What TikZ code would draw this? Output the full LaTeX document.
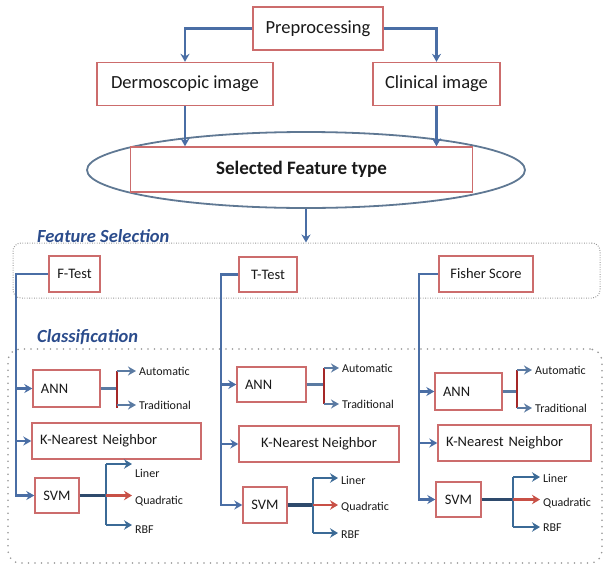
\documentclass[tikz,border=0pt]{standalone}
\usepackage{fontspec}
\setmainfont{Carlito}
\usetikzlibrary{arrows.meta,shapes.geometric}

\definecolor{boxred}{RGB}{204,108,108}
\definecolor{txtgray}{RGB}{25,25,25}
\definecolor{mainblue}{RGB}{74,110,165}
\definecolor{steelblue}{RGB}{59,106,150}
\definecolor{svmdark}{RGB}{46,74,108}
\definecolor{linkblue}{RGB}{90,122,162}
\definecolor{barred}{RGB}{165,40,40}
\definecolor{quadred}{RGB}{200,80,70}
\definecolor{ellgray}{RGB}{95,120,147}
\definecolor{dotgray}{RGB}{150,150,150}
\definecolor{headblue}{RGB}{43,76,140}

\begin{document}
\begin{tikzpicture}[x=1pt,y=-1pt,
  bigbox/.style={draw=boxred, line width=1.4pt, fill=white, inner sep=0pt,
    text=txtgray, font=\fontsize{18.5}{22}\selectfont},
  cbox/.style={draw=boxred, line width=1.4pt, fill=white, inner xsep=8pt, inner ysep=0pt,
    text=txtgray, font=\fontsize{14.5}{17}\selectfont},
  lbox/.style={cbox, align=left},
  small/.style={inner xsep=3pt, inner ysep=0pt, anchor=west, text=txtgray,
    font=\fontsize{12}{14}\selectfont},
  sect/.style={inner sep=0pt, anchor=base west, text=headblue,
    font=\fontsize{18.5}{22}\selectfont\bfseries\itshape},
  arr/.style={draw=mainblue, line width=2.3pt, -{Stealth[length=8pt,width=9pt]}},
  link/.style={draw=linkblue, line width=2.8pt},
  rbar/.style={draw=barred, line width=2.4pt},
  svmlink/.style={draw=svmdark, line width=3.6pt},
  sbar/.style={draw=steelblue, line width=2.3pt},
  sarr/.style={draw=steelblue, line width=2.3pt, -{Stealth[length=8pt,width=9.5pt]}},
  qarr/.style={sarr, draw=quadred},
  fsframe/.style={draw=dotgray, line width=1pt, rounded corners=8pt,
    dash pattern=on 0.8pt off 1.6pt},
  clframe/.style={draw=dotgray, line width=1.8pt, rounded corners=12pt, line cap=round,
    dash pattern=on 0pt off 6.5pt}
]
\useasboundingbox (0,0) rectangle (606,571);

% ---------- top part ----------
\node[bigbox, minimum width=130pt, minimum height=43pt] (pre) at (318,28.5) {Preprocessing};
\node[bigbox, minimum width=176pt, minimum height=43pt] (derm) at (185,84) {Dermoscopic image};
\node[bigbox, minimum width=127pt, minimum height=43pt] (clin) at (436.5,84) {Clinical image};
\node[ellipse, draw=ellgray, line width=1.8pt, minimum width=438pt, minimum height=76pt,
  inner sep=0pt] (ell) at (306,170) {};
\node[bigbox, font=\fontsize{19}{22}\selectfont\bfseries, minimum width=342pt,
  minimum height=45pt] (sel) at (301.5,169.5) {Selected Feature type};

\draw[arr] (pre.west) -| (derm.north);
\draw[arr] (pre.east) -| (clin.north);
\draw[arr] (derm.south) -- (derm.south |- sel.north);
\draw[arr] (clin.south) -- (clin.south |- sel.north);

% ---------- section frames ----------
\node[fsframe, minimum width=587pt, minimum height=55pt] (fs) at (306.5,270.5) {};
\draw[arr] (ell.south) -- (ell.south |- fs.north);
\node[sect] (fslab) at (37,242) {Feature Selection};
\node[clframe, minimum width=594pt, minimum height=214pt] (cl) at (305,456) {};
\node[sect] (cllab) at (37,342) {Classification};

% ---------- left column ----------
\node[cbox, minimum width=51pt, minimum height=36pt] (ft) at (74.5,274) {F-Test};
\node[lbox, text width=51pt, minimum height=37pt] (ann1) at (66.5,388.5) {ANN};
\node[lbox, text width=153pt, minimum height=36pt] (knn1) at (116.5,441) {K-Nearest Neighbor};
\node[cbox, inner xsep=0pt, minimum width=44pt, minimum height=35pt] (svm1) at (57,495.5) {SVM};

\coordinate (v1) at (16,274);
\draw[arr] (ft.west) -- (v1) |- (svm1.west);
\draw[arr] (v1 |- ann1.west) -- (ann1.west);
\draw[arr] (v1 |- knn1.west) -- (knn1.west);

\node[small] (auto1) at (136,371) {Automatic};
\node[small] (trad1) at (136,405) {Traditional};
\coordinate (a1t) at (117,371);
\coordinate (a1b) at (117,408);
\draw[link] (ann1.east) -- (ann1.east -| a1t);
\draw[rbar] (a1t) -- (a1b);
\draw[arr, draw=linkblue] (a1t) -- (auto1.west);
\draw[arr, draw=linkblue] (a1t |- trad1.west) -- (trad1.west);

\node[small] (lin1) at (132,473) {Liner};
\node[small] (quad1) at (132,501) {Quadratic};
\node[small] (rbf1) at (132,530) {RBF};
\coordinate (s1t) at (106,464);
\coordinate (s1b) at (106,525);
\draw[svmlink] (svm1.east) -- (svm1.east -| s1t);
\draw[sbar] (s1t) -- (s1b);
\draw[sarr] (s1t) -- (s1t -| lin1.west);
\draw[qarr] (s1t |- svm1.east) -- (svm1.east -| quad1.west);
\draw[sarr] (s1b) -- (s1b -| rbf1.west);

% ---------- middle column ----------
\node[cbox, minimum width=58pt, minimum height=35pt] (tt) at (268,274.5) {T-Test};
\node[lbox, text width=53pt, minimum height=35pt] (ann2) at (271.5,384.5) {ANN};
\node[cbox, minimum width=160pt, minimum height=36pt] (knn2) at (319,444) {K-Nearest Neighbor};
\node[cbox, inner xsep=0pt, minimum width=44pt, minimum height=36pt] (svm2) at (265,505) {SVM};

\coordinate (v2) at (221,274.5);
\draw[arr] (tt.west) -- (v2) |- (svm2.west);
\draw[arr] (v2 |- ann2.west) -- (ann2.west);
\draw[arr] (v2 |- knn2.west) -- (knn2.west);

\node[small] (auto2) at (339,368) {Automatic};
\node[small] (trad2) at (339,404) {Traditional};
\coordinate (a2t) at (324,368);
\coordinate (a2b) at (324,404);
\draw[link] (ann2.east) -- (ann2.east -| a2t);
\draw[rbar] (a2t) -- (a2b);
\draw[arr, draw=linkblue] (a2t) -- (auto2.west);
\draw[arr, draw=linkblue] (a2b) -- (trad2.west);

\node[small] (lin2) at (338,480) {Liner};
\node[small] (quad2) at (338,507) {Quadratic};
\node[small] (rbf2) at (338,535) {RBF};
\coordinate (s2t) at (313,478);
\coordinate (s2b) at (313,533);
\draw[svmlink] (svm2.east) -- (svm2.east -| s2t);
\draw[sbar] (s2t) -- (s2b);
\draw[sarr] (s2t) -- (s2t -| lin2.west);
\draw[qarr] (s2t |- svm2.east) -- (svm2.east -| quad2.west);
\draw[sarr] (s2b) -- (s2b -| rbf2.west);

% ---------- right column ----------
\node[cbox, minimum width=94pt, minimum height=36pt] (fis) at (486,274) {Fisher Score};
\node[lbox, text width=51pt, minimum height=37pt] (ann3) at (468.5,391.5) {ANN};
\node[lbox, text width=137pt, minimum height=36pt] (knn3) at (514.5,443) {K-Nearest Neighbor};
\node[cbox, inner xsep=0pt, minimum width=45pt, minimum height=35pt] (svm3) at (458.5,499.5) {SVM};

\coordinate (v3) at (419,274);
\draw[arr] (fis.west) -- (v3) |- (svm3.west);
\draw[arr] (v3 |- ann3.west) -- (ann3.west);
\draw[arr] (v3 |- knn3.west) -- (knn3.west);

\node[small] (auto3) at (532,370) {Automatic};
\node[small] (trad3) at (532,408) {Traditional};
\coordinate (a3t) at (517,370);
\coordinate (a3b) at (517,408);
\draw[link] (ann3.east) -- (ann3.east -| a3t);
\draw[rbar] (a3t) -- (a3b);
\draw[arr, draw=linkblue] (a3t) -- (auto3.west);
\draw[arr, draw=linkblue] (a3b) -- (trad3.west);

\node[small] (lin3) at (540,478) {Liner};
\node[small] (quad3) at (540,503) {Quadratic};
\node[small] (rbf3) at (540,528) {RBF};
\coordinate (s3t) at (513,477);
\coordinate (s3b) at (513,527);
\draw[svmlink] (svm3.east) -- (svm3.east -| s3t);
\draw[sbar] (s3t) -- (s3b);
\draw[sarr] (s3t) -- (s3t -| lin3.west);
\draw[qarr] (s3t |- svm3.east) -- (svm3.east -| quad3.west);
\draw[sarr] (s3b) -- (s3b -| rbf3.west);
\end{tikzpicture}
\end{document}
